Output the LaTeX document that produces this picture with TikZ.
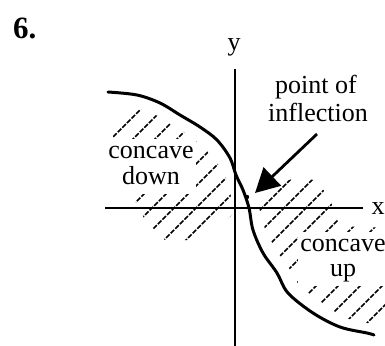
\documentclass[tikz,border=0pt]{standalone}
\usepackage{fontspec}
\setmainfont{Liberation Serif}
\usetikzlibrary{arrows.meta}
\begin{document}
\begin{tikzpicture}[x=1pt,y=-1pt,
  lbl/.style={font=\fontsize{26}{25}\selectfont, inner sep=0pt},
  whitelbl/.style={lbl, fill=white, inner sep=2pt, align=center},
  hatchline/.style={line width=1.5pt, dash pattern=on 5pt off 1.5pt},
  axisline/.style={line width=1.8pt},
  curveline/.style={line width=3pt, line join=round, line cap=round},
  pointer/.style={line width=2.8pt, -{Triangle[length=24pt,width=25pt]}}]
\useasboundingbox (0,0) rectangle (385,345);
% hatching, left region
\begin{scope}
\clip (111,104) -- (137,108) -- (158,116) -- (176,127) -- (194,139) -- (208,152)
  -- (220,167) -- (228,182) -- (231,197) -- (232,215) -- (215,230) -- (195,240)
  -- (165,240) -- (145,220) -- (132,195) -- (115,150) -- (111,120) -- cycle;
\foreach \c in {250,272,...,800} \draw[hatchline] (\c,0) -- ++(-400,400);
\end{scope}
% hatching, right region
\begin{scope}
\clip (258,200) -- (275,185) -- (295,178) -- (315,180) -- (325,192) -- (335,210)
  -- (340,226) -- (388,228) -- (388,326) -- (372,324) -- (345,318) -- (322,304)
  -- (300,287) -- (289,268) -- (276,250) -- (265,229) -- (260,212) -- cycle;
\foreach \c in {250,272,...,800} \draw[hatchline] (\c,0) -- ++(-400,400);
\end{scope}
% labels
\node[lbl, font=\fontsize{31}{31}\selectfont\bfseries, anchor=base west] (num) at (13,39) {6.};
\node[whitelbl] (cd) at (151,166.5) {concave\strut\\down\strut};
\node[whitelbl] (cu) at (343,258.5) {concave\strut\\up\strut};
\node[lbl, anchor=base] (pi1) at (316,93) {point of};
\node[lbl, anchor=base] (pi2) at (318,121) {inflection};
\node[lbl] (ylab) at (234,47) {y};
\node[lbl] (xlab) at (378,209) {x};
% axes
\coordinate (ytop) at (235,69);
\coordinate (ybot) at (235,346);
\coordinate (xleft) at (105,208);
\coordinate (xright) at (363,208);
\draw[axisline] (ybot) -- (ytop);
\draw[axisline] (xleft) -- (xright);
% curve
\draw[curveline] plot[smooth, tension=0.55] coordinates {(108,92) (137,95) (160,103)
  (180,115) (200,127) (217,140) (230,158) (236,175) (243,190) (249,208) (253,230)
  (263,253) (277,273) (288,293) (313,313) (340,327) (367,333) (374,335)};
% inflection point and arrow
\coordinate (ip) at (247,197);
\fill (ip) circle (2.2pt);
\coordinate (arrstart) at (317,134);
\coordinate (arrtip) at (255,193);
\draw[pointer] (arrstart) -- (arrtip);
\end{tikzpicture}
\end{document}
